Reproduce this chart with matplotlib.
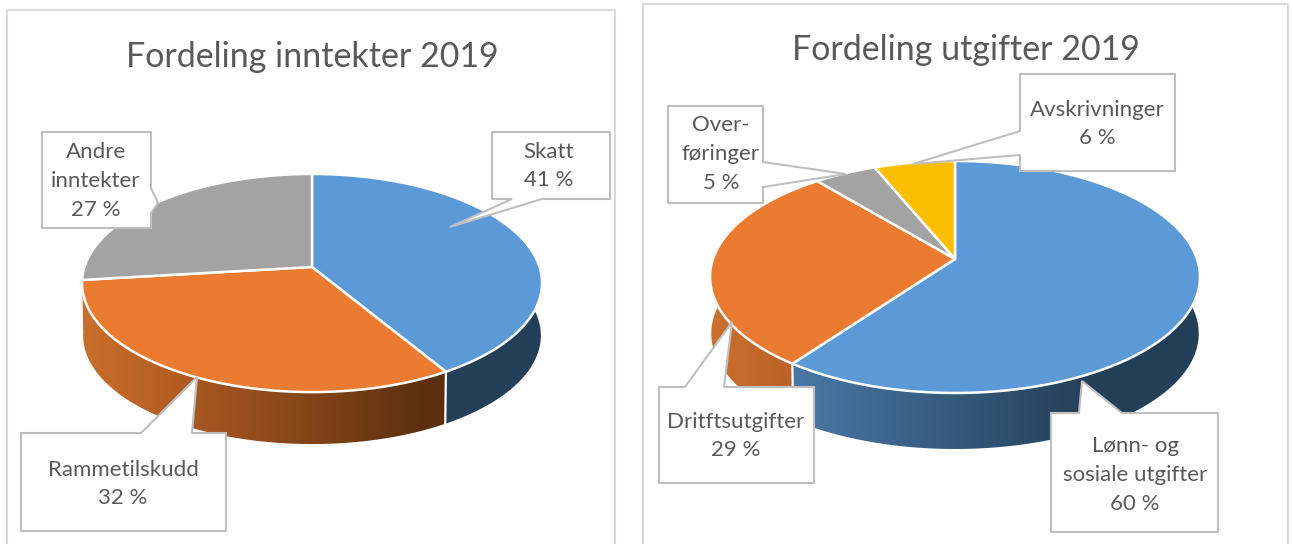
import numpy as np
import matplotlib
matplotlib.use("Agg")
import matplotlib.pyplot as plt
from matplotlib.colors import LinearSegmentedColormap
from matplotlib.patches import Polygon

plt.rcParams['font.family'] = ['Lato', 'DejaVu Sans']

# ---- data ----
income_title = "Fordeling inntekter 2019"
income_labels = ["Skatt\n41 %", "Rammetilskudd\n32 %", "Andre\ninntekter\n27 %"]
income_values = [41.4, 31.7, 26.9]
expense_title = "Fordeling utgifter 2019"
expense_labels = ["Lønn- og\nsosiale utgifter\n60 %", "Dritftsutgifter\n29 %", "Over-\nføringer\n5 %", "Avskrivninger\n6 %"]
expense_values = [60, 29, 4.8, 6.2]
top_colors = ["#5B9AD6", "#EA7B30", "#A3A3A3", "#FBBF00"]

W, H = 1293, 544
fig = plt.figure(figsize=(W / 100, H / 100), dpi=100)
ax = fig.add_axes([0, 0, 1, 1])
ax.set_xlim(0, W)
ax.set_ylim(H, 0)
ax.axis("off")
TXT = "#595959"
EDGE = "#BFBFBF"


def project(theta, g, scale=1.0, drop=0.0):
    x, y = np.sin(theta), np.cos(theta)
    d = 1 + g["k"] * y
    return (g["cx"] + scale * g["a"] * x / d,
            g["cy"] - scale * g["b"] * y / d + drop)


def gradient_fill(poly_xy, stops, zorder):
    """Fill a polygon with a horizontal gradient given (x, colour) stops."""
    x0, x1 = stops[0][0], stops[-1][0]
    cmap = LinearSegmentedColormap.from_list(
        "g", [((x - x0) / (x1 - x0), c) for x, c in stops])
    patch = Polygon(poly_xy, closed=True, fc="none", ec="none", transform=ax.transData)
    ax.add_patch(patch)
    ys = poly_xy[:, 1]
    im = ax.imshow(np.linspace(0, 1, 512)[None, :], cmap=cmap, aspect="auto", zorder=zorder,
                   extent=(x0, x1, ys.max() + 1, ys.min() - 1))
    im.set_clip_path(patch)


def draw_pie(values, g, side_stops):
    fracs = np.cumsum([0] + list(values)) / float(sum(values)) * 2 * np.pi
    # sides first
    for i in range(len(values)):
        t = np.linspace(fracs[i], fracs[i + 1], 240)
        xt, yt = project(t, g)
        xb, yb = project(t, g, g["s"], g["drop"])
        poly = np.column_stack([np.r_[xt, xb[::-1]], np.r_[yt, yb[::-1]]])
        if side_stops[i] is not None:
            gradient_fill(poly, side_stops[i], 2)
    # boundaries visible on the front
    for f in fracs[1:-1]:
        if np.cos(f) < 0 and f < 1.5 * np.pi - 0.6:
            xt, yt = project(f, g)
            xb, yb = project(f, g, g["s"], g["drop"])
            ax.plot([xt, xb], [yt, yb], color="white", lw=1.6, zorder=2.5)
    # top face
    for i in range(len(values)):
        t = np.linspace(fracs[i], fracs[i + 1], 240)
        xt, yt = project(t, g)
        poly = np.column_stack([np.r_[g["cx"], xt], np.r_[g["cy"], yt]])
        ax.add_patch(Polygon(poly, closed=True, fc=top_colors[i], ec="white", lw=1.8,
                             joinstyle="round", zorder=3))


def callout(points, zorder=4):
    ax.add_patch(Polygon(points, closed=True, fc="white", ec=EDGE, lw=1.5,
                         joinstyle="miter", zorder=zorder))


def label(x, y, s):
    ax.text(x, y, s, ha="center", va="center", color=TXT, fontsize=16,
            linespacing=1.56, zorder=5)


# panels
for x0, x1, y0 in [(7, 615, 10), (643, 1288, 4)]:
    ax.plot([x0, x0, x1, x1], [H + 5, y0, y0, H + 5], color="#D9D9D9", lw=1.5, zorder=1)

ax.text(312, 57, income_title, ha="center", va="center", color=TXT, fontsize=24.5, zorder=5)
ax.text(966, 50, expense_title, ha="center", va="center", color=TXT, fontsize=24.5, zorder=5)

g_left = dict(cx=312, cy=267, a=227.5, b=106.7, k=0.147, s=0.995, drop=52.6)
g_right = dict(cx=955, cy=259, a=242, b=113.2, k=0.155, s=0.995, drop=56.7)

navy = "#243F58"
draw_pie(income_values, g_left, [
    [(60, navy), (600, navy)],
    [(80, "#C8702C"), (180, "#B25C22"), (197, "#A65722"), (300, "#87461A"), (420, "#5E300F"), (450, "#5A2E0E")],
    None])
draw_pie(expense_values, g_right, [
    [(790, "#4A79A8"), (1090, navy), (1210, navy)],
    [(700, "#CC722E"), (795, "#B9622A")],
    None, None])

# callouts: left chart
callout([(492, 132), (610, 132), (610, 199), (542, 199), (450, 227), (512, 199), (492, 199)])
callout([(21, 433), (141, 433), (197, 377), (192, 433), (226, 433), (226, 531), (21, 531)])
callout([(42, 132), (151, 132), (151, 188), (158, 203), (151, 213), (151, 228), (42, 228)])
label(549, 166, income_labels[0])
label(123, 484, income_labels[1])
label(96, 181, income_labels[2])

# callouts: right chart
callout([(1051, 413), (1079, 413), (1082, 381), (1122, 413), (1218, 413), (1218, 532), (1051, 532)])
callout([(659, 387), (685, 387), (732, 322), (724, 387), (814, 387), (814, 483), (659, 483)])
callout([(668, 106), (763, 106), (763, 162), (846, 174), (763, 187), (763, 203), (668, 203)])
callout([(1020, 74), (1175, 74), (1175, 171), (1020, 171), (1020, 155), (913, 164), (1020, 131)])
label(1135, 475, expense_labels[0])
label(736, 436, expense_labels[1])
label(721, 154, expense_labels[2])
label(1097, 124, expense_labels[3])

ax.set_xlim(0, W)
ax.set_ylim(H, 0)
fig.savefig("out.png", dpi=100, facecolor="white")
